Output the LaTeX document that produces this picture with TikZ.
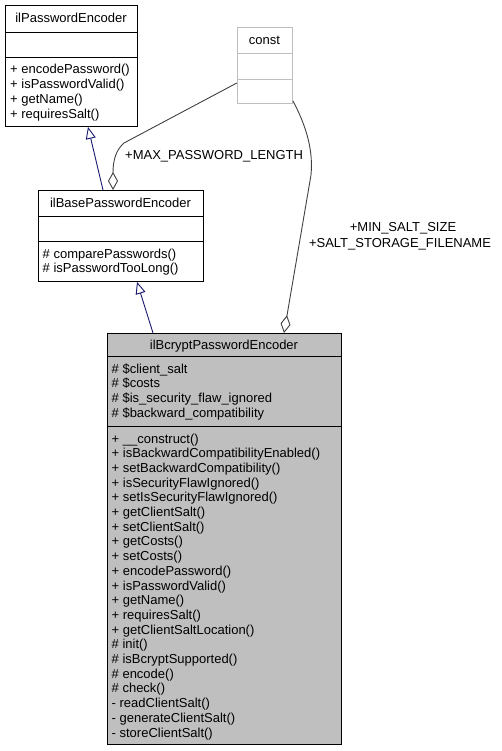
\documentclass[tikz,border=0pt]{standalone}
\usepackage{fontspec}
\setmainfont{Liberation Sans}
\usetikzlibrary{arrows.meta}
\definecolor{edgegray}{HTML}{404040}
\definecolor{fillgray}{HTML}{BFBFBF}
\definecolor{navyblue}{HTML}{191970}
\tikzset{
  cls/.style={draw=black, line width=0.9pt, rectangle, inner sep=0pt, anchor=north west},
  txt/.style={inner sep=0pt, font=\fontsize{13}{14.7}\selectfont},
  sepline/.style={line width=0.9pt},
  inh/.style={draw=navyblue, line width=0.9pt, -{Triangle[open, length=12pt, width=10pt, fill=white]}},
  agg/.style={draw=edgegray, line width=0.9pt, {Diamond[open, length=18pt, width=10pt, fill=white]}-},
}
\newcommand\memberlist[4]{\foreach \t [count=\i from 0] in {#4} {\node[txt, anchor=base west] (#1\i) at (#2,#3+14.7*\i) {\t};}}
\begin{document}
\begin{tikzpicture}[x=1pt,y=-1pt]
\useasboundingbox (0,0) rectangle (501,751);

% ilPasswordEncoder
\node[cls, minimum width=132pt, minimum height=121pt] (pe) at (5,5) {};
\draw[sepline] ([yshift=-27pt]pe.north west) -- ([yshift=-27pt]pe.north east);
\draw[sepline] ([yshift=-52pt]pe.north west) -- ([yshift=-52pt]pe.north east);
\node[txt, anchor=base] (pet) at (71,23) {ilPasswordEncoder};
\memberlist{pem}{10}{74}{+ encodePassword(), + isPasswordValid(), + getName(), + requiresSalt()}

% const
\node[cls, draw=fillgray, minimum width=55pt, minimum height=76pt] (cst) at (237,27) {};
\draw[sepline, fillgray] ([yshift=-26pt]cst.north west) -- ([yshift=-26pt]cst.north east);
\draw[sepline, fillgray] ([yshift=-52pt]cst.north west) -- ([yshift=-52pt]cst.north east);
\node[txt, anchor=base] (cstt) at (264.5,44.5) {const};

% ilBasePasswordEncoder
\node[cls, minimum width=165pt, minimum height=91pt] (ib) at (38,190) {};
\draw[sepline] ([yshift=-26pt]ib.north west) -- ([yshift=-26pt]ib.north east);
\draw[sepline] ([yshift=-51pt]ib.north west) -- ([yshift=-51pt]ib.north east);
\node[txt, anchor=base] (ibt) at (120.5,207.5) {ilBasePasswordEncoder};
\memberlist{ibm}{42.5}{258}{\#~comparePasswords(), \#~isPasswordTooLong()}

% ilBcryptPasswordEncoder
\node[cls, fill=fillgray, minimum width=234pt, minimum height=411pt] (bc) at (107,333) {};
\draw[sepline] ([yshift=-23pt]bc.north west) -- ([yshift=-23pt]bc.north east);
\draw[sepline] ([yshift=-93pt]bc.north west) -- ([yshift=-93pt]bc.north east);
\node[txt, anchor=base] (bct) at (224,349) {ilBcryptPasswordEncoder};
\memberlist{bca}{111.5}{373}{\#~\$client\_salt, \#~\$costs, \#~\$is\_security\_flaw\_ignored, \#~\$backward\_compatibility}
\memberlist{bcm}{111.5}{443}{+ \_\_construct(), + isBackwardCompatibilityEnabled(), + setBackwardCompatibility(), + isSecurityFlawIgnored(), + setIsSecurityFlawIgnored(), + getClientSalt(), + setClientSalt(), + getCosts(), + setCosts(), + encodePassword(), + isPasswordValid(), + getName(), + requiresSalt(), + getClientSaltLocation(), \#~init(), \#~isBcryptSupported(), \#~encode(), \#~check(), -~readClientSalt(), -~generateClientSalt(), -~storeClientSalt()}

% inheritance
\draw[inh] ([xshift=65pt]ib.north west) -- ([xshift=83pt]pe.south west);
\draw[inh] ([xshift=46pt]bc.north west) -- ([xshift=99pt]ib.south west);

% aggregation
\draw[agg] ([xshift=75pt]ib.north west) .. controls (113,160) and (116,150) .. (124,143) -- ([yshift=21pt]cst.south west);
\draw[agg] ([xshift=177pt]bc.north west) -- (311,175) .. controls (314,145) and (302,118) .. ([yshift=3pt]cst.south east);

% labels
\node[txt, anchor=base west] (l1) at (125,160) {+MAX\_PASSWORD\_LENGTH};
\node[txt, anchor=base] (l2) at (403,231) {+MIN\_SALT\_SIZE};
\node[txt, anchor=base] (l3) at (400,247) {+SALT\_STORAGE\_FILENAME};
\end{tikzpicture}
\end{document}
